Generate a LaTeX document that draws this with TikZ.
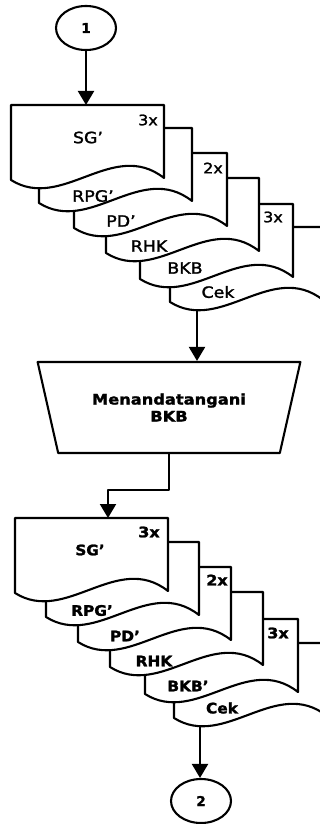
\documentclass[tikz,border=0pt]{standalone}
\usepackage{fontspec}
\usepackage{graphicx}
\usetikzlibrary{arrows.meta,shapes.geometric}
% Verdana-like face, drawn with a heavier stroke
\newfontfamily\vfont{DejaVu Sans}[FakeBold=1.6]
% widen a piece of text horizontally (default factor 1.12)
\newcommand\stretchtext[2][1.12]{\scalebox{#1}[1]{#2}}

\tikzset{
  flow/.style={line width=2.1pt, line join=round},
  arr/.style={flow, -{Triangle[length=14pt,width=16pt]}},
  % multi-copy document sheet with a wavy lower edge, origin at its top-left corner
  sheet/.pic={
    \path[flow, fill=white, draw=black]
      (0,75) -- (0,0) -- (153,0) -- (153,73)
      .. controls (102,33) and (51,107) .. (0,75) -- cycle;
    \coordinate (-corner) at (0,0);
  },
  doclabel/.style={font=\vfont\fontsize{15.5}{17}\selectfont, inner sep=0pt},
  doclabelb/.style={font=\vfont\bfseries\fontsize{14.5}{16}\selectfont, inner sep=0pt},
  copies/.style={font=\vfont\fontsize{14.5}{16}\selectfont, inner sep=0pt},
  copiesb/.style={font=\vfont\bfseries\fontsize{14.5}{16}\selectfont, inner sep=0pt},
  connector/.style={ellipse, draw, flow, fill=white, minimum width=60pt,
    minimum height=44pt, inner sep=0pt, font=\vfont\bfseries\fontsize{13.5}{15}\selectfont},
  manualop/.style={trapezium, draw, flow, fill=white, shape border rotate=180,
    trapezium stretches=true, trapezium angle=63, minimum width=263pt,
    minimum height=91pt, inner sep=0pt, align=center,
    font=\vfont\bfseries\fontsize{14.5}{17}\selectfont}
}

\begin{document}
\begin{tikzpicture}[x=1pt, y=-1pt]
  \useasboundingbox (0,0) rectangle (320,824);
  \fill[white] (0,0) rectangle (320,824);
  \clip (0,0) rectangle (320,824);

  % off-page connector 1
  \node[connector] (on1) at (86,28) {1};

  % first document stack, drawn back to front
  \pic (a6) at (170,227) {sheet};
  \pic (a5) at (140,204) {sheet};
  \pic (a4) at (106,178) {sheet};
  \pic (a3) at (74,153) {sheet};
  \pic (a2) at (39,128) {sheet};
  \pic (a1) at (11,105) {sheet};

  \node[doclabel] (a1t) at (88,137.5) {\stretchtext{SG’}};
  \node[copies] (a1n) at (148,120) {\stretchtext[1.1]{3x}};
  \node[doclabel] (a2t) at (93,196) {\stretchtext{RPG’}};
  \node[copies] (a3n) at (213,168) {\stretchtext[1.1]{2x}};
  \node[doclabel] (a3t) at (121,221) {\stretchtext{PD’}};
  \node[copies] (a5n) at (273,217) {\stretchtext[1.1]{3x}};
  \node[doclabel] (a4t) at (149,246) {\stretchtext{RHK}};
  \node[doclabel] (a5t) at (185,268) {\stretchtext{BKB}};
  \node[doclabel] (a6t) at (218,292) {\stretchtext{Cek}};

  \coordinate (a1in) at (86,105);
  \draw[arr] (on1) -- (a1in);

  % signing step
  \node[manualop] (sign) at (169,407.5)
    {\stretchtext[1.12]{Menandatangani}\\\stretchtext[1.12]{BKB}};
  \coordinate (a6out) at (197,309);
  \draw[arr] (a6out) -- (a6out |- sign.north);

  % second document stack, drawn back to front
  \pic (b6) at (174,643) {sheet};
  \pic (b5) at (145,619) {sheet};
  \pic (b4) at (110,592) {sheet};
  \pic (b3) at (78,567) {sheet};
  \pic (b2) at (46,542) {sheet};
  \pic (b1) at (15,518) {sheet};

  \node[doclabelb] (b1t) at (90,550) {\stretchtext[1.05]{SG’}};
  \node[copiesb] (b1n) at (149,532) {\stretchtext[1.1]{3x}};
  \node[doclabelb] (b2t) at (92,610.5) {\stretchtext[1.06]{RPG’}};
  \node[copiesb] (b3n) at (217,580) {\stretchtext[1.1]{2x}};
  \node[doclabelb] (b3t) at (125,636) {\stretchtext[1.06]{PD’}};
  \node[copiesb] (b5n) at (278,633) {\stretchtext[1.1]{3x}};
  \node[doclabelb] (b4t) at (154,661) {\stretchtext[1.06]{RHK}};
  \node[doclabelb] (b5t) at (188,686) {\stretchtext[1.06]{BKB’}};
  \node[doclabelb] (b6t) at (222,708) {\stretchtext[1.06]{Cek}};

  \coordinate (b1in) at (108,518);
  \coordinate (jog) at (108,490);
  \draw[arr] (sign.south) |- (jog) -- (b1in);

  % off-page connector 2
  \node[connector] (on2) at (201,801) {2};
  \coordinate (b6out) at (200,725);
  \draw[arr] (b6out) -- (b6out |- on2.north);
\end{tikzpicture}
\end{document}
